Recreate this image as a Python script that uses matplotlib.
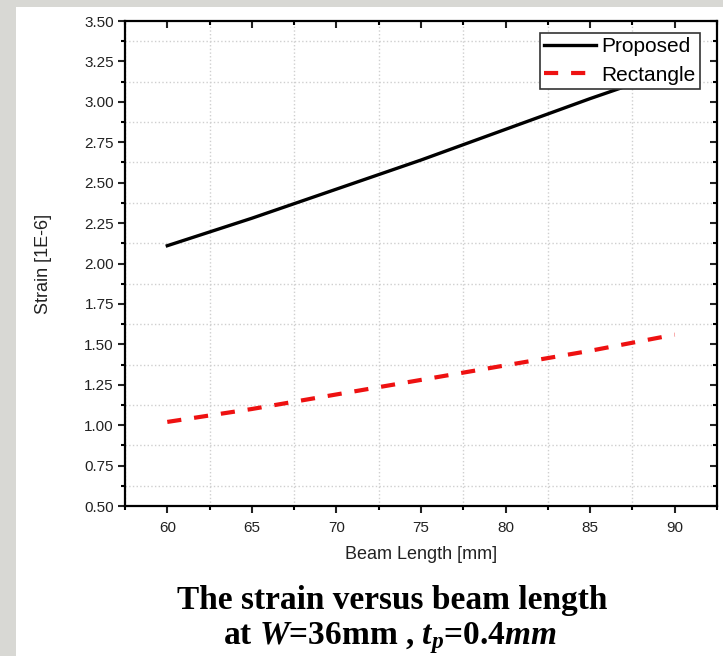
import matplotlib.pyplot as plt
from matplotlib.patches import Rectangle
from matplotlib.ticker import MultipleLocator, FormatStrFormatter

# beam length [mm]
beam_length = [60, 65, 70, 75, 80, 85, 90]
# strain [1E-6]
strain_proposed = [2.11, 2.28, 2.46, 2.64, 2.83, 3.02, 3.20]
strain_rectangle = [1.02, 1.10, 1.19, 1.28, 1.37, 1.46, 1.56]

plt.rcParams['font.family'] = ['Liberation Sans Narrow', 'Liberation Sans', 'DejaVu Sans']
plt.rcParams['mathtext.fontset'] = 'custom'
plt.rcParams['mathtext.rm'] = 'Liberation Serif:bold'
plt.rcParams['mathtext.it'] = 'Liberation Serif:bold:italic'
plt.rcParams['mathtext.bf'] = 'Liberation Serif:bold'

fig = plt.figure(figsize=(7.23, 6.56), dpi=100)
fig.patch.set_facecolor('#d8d8d4')
# white slide panel behind everything
fig.patches.append(Rectangle((16 / 723, 0), 1, 1 - 7 / 656, transform=fig.transFigure,
                             facecolor='white', edgecolor='none', zorder=-5))

ax = fig.add_axes([125 / 723, 1 - 506 / 656, (717 - 125) / 723, (506 - 21) / 656])
ax.set_zorder(2)

ax.plot(beam_length, strain_proposed, color='black', lw=2.4, label='Proposed', zorder=3)
ax.plot(beam_length, strain_rectangle, color='#ee1111', lw=3, dashes=(3.4, 3.1),
        label='Rectangle', zorder=3)

ax.set_xlim(57.5, 92.5)
ax.set_ylim(0.5, 3.5)
ax.xaxis.set_major_locator(MultipleLocator(5))
ax.xaxis.set_minor_locator(MultipleLocator(2.5))
ax.yaxis.set_major_locator(MultipleLocator(0.25))
ax.yaxis.set_minor_locator(MultipleLocator(0.125))
ax.yaxis.set_major_formatter(FormatStrFormatter('%.2f'))

ax.grid(True, which='minor', color='#cfcfcf', linestyle=':', linewidth=1)
ax.grid(False, which='major')

for sp in ax.spines.values():
    sp.set_linewidth(1.6)

ax.tick_params(which='major', direction='out', length=5, width=1.5, labelsize=11,
               colors='#222222', top=True, right=True, pad=3)
ax.tick_params(which='minor', direction='out', length=3, width=1.5, top=True, right=True)
ax.tick_params(axis='x', which='major', pad=6)
ax.tick_params(axis='both', which='both', labeltop=False, labelright=False)
# top/right ticks point inward
for t in ax.xaxis.get_major_ticks() + ax.xaxis.get_minor_ticks():
    t.tick2line.set_marker(3)
for t in ax.yaxis.get_major_ticks() + ax.yaxis.get_minor_ticks():
    t.tick2line.set_marker(0)

ax.set_xlabel('Beam Length [mm]', fontsize=13, labelpad=8, color='#222222')
ax.set_ylabel('Strain [1E-6]', fontsize=13, labelpad=23, color='#222222')

leg = ax.legend(loc='upper right', bbox_to_anchor=(0.971, 0.975), fontsize=15,
                frameon=True, fancybox=False, edgecolor='#333333', framealpha=1,
                handlelength=2.5, handletextpad=0.25, borderpad=0.2, labelspacing=0.45,
                borderaxespad=0)
leg.get_frame().set_linewidth(1.2)
leg.set_zorder(5)

fig.text(392 / 723, 1 - 600 / 656, 'The strain versus beam length', ha='center', va='center',
         fontsize=24, family='Liberation Serif', weight='bold')
fig.text(390 / 723, 1 - 638 / 656, r'at $W$=36mm , $t_p$=$\mathit{0.4mm}$', ha='center',
         va='center', fontsize=24, family='Liberation Serif', weight='bold')

fig.savefig('out.png', dpi=100, facecolor=fig.get_facecolor())
